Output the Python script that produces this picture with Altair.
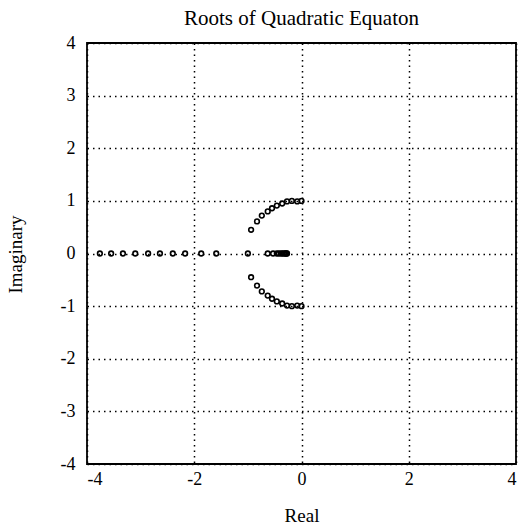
import altair as alt
import pandas as pd

# Roots on the real axis (overdamped cases)
real_re = [-3.76, -3.55, -3.33, -3.10, -2.86, -2.64, -2.40, -2.17, -1.87, -1.59,
           -1.00, -0.63, -0.53, -0.46, -0.42, -0.38, -0.35, -0.32, -0.30, -0.28, -0.27]
real_im = [0.0] * len(real_re)

# Complex-conjugate root pairs (upper half; lower half mirrors them)
cplx_re = [-0.94, -0.83, -0.74, -0.63, -0.55, -0.46, -0.36, -0.27, -0.18, -0.08, 0.0]
cplx_im = [0.45, 0.61, 0.72, 0.80, 0.86, 0.91, 0.95, 0.99, 1.00, 0.99, 1.00]

re_vals = real_re + cplx_re + cplx_re
im_vals = real_im + cplx_im + [-v for v in cplx_im]
df = pd.DataFrame({"Real": re_vals, "Imaginary": im_vals})

ticks = [-4, -3, -2, -1, 0, 1, 2, 3, 4]
xticks = [-4, -2, 0, 2, 4]
FONT = "Liberation Serif"

chart = alt.Chart(df).mark_point(
    shape="circle", filled=False, color="black", size=22, strokeWidth=1.6, opacity=1
).encode(
    x=alt.X("Real:Q", scale=alt.Scale(domain=[-4, 4], nice=False),
            axis=alt.Axis(values=xticks, title="Real", titleY=51, titleBaseline="middle",
                          labelPadding=6, labelExpr="'' + datum.value")),
    y=alt.Y("Imaginary:Q", scale=alt.Scale(domain=[-4, 4], nice=False),
            axis=alt.Axis(values=ticks, title="Imaginary", titleX=-72, titleY=211,
                          titleBaseline="middle", labelPadding=12,
                          labelExpr="'' + datum.value")),
).properties(
    width=429, height=421,
    title=alt.TitleParams("Roots of Quadratic Equaton", font=FONT, fontSize=21,
                          fontWeight="normal", color="black", offset=5),
    autosize=alt.AutoSizeParams(type="none"),
    padding={"left": 87, "top": 43, "right": 3, "bottom": 65},
    background="white",
).configure_view(
    stroke="black", strokeWidth=1.8
).configure_axis(
    domain=False, ticks=False, grid=True, gridColor="black", gridDash=[1.5, 4],
    gridWidth=1.5, gridOpacity=1, labelFont=FONT, labelFontSize=18, labelColor="black",
    titleFont=FONT, titleFontSize=19, titleFontWeight="normal", titleColor="black",
)

chart.save("out.html", embed_options={"renderer": "svg", "actions": False})
